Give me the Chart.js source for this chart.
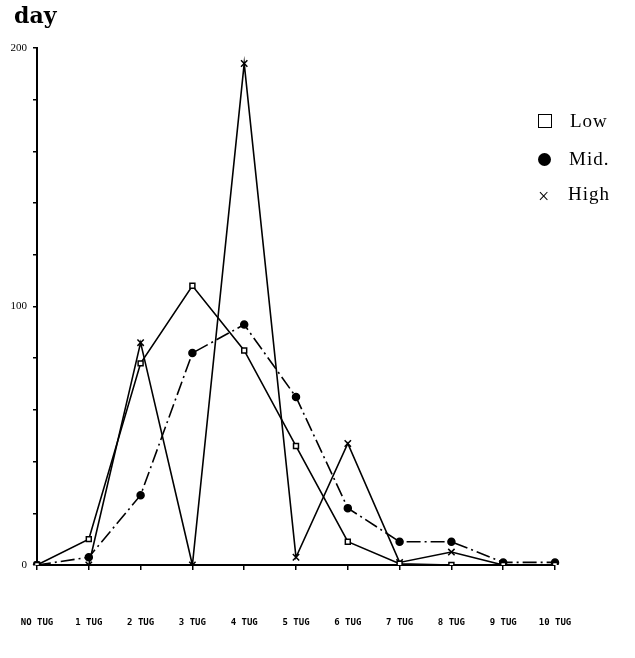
<!DOCTYPE html>
<html><head><meta charset="utf-8">
<script src="https://cdn.jsdelivr.net/npm/chart.js@4"></script>
<style>
body{margin:0;background:#fff;width:635px;height:658px;overflow:hidden;position:relative;font-family:"Liberation Serif",serif}
#wrap{position:absolute;left:0;top:0;width:635px;height:658px}
#day{position:absolute;left:14px;top:2px;font-size:22px;font-weight:bold;font-family:"DejaVu Serif",serif}
.lg{position:absolute;left:538px;font-size:19px;font-family:"Liberation Serif",serif;letter-spacing:1px}
</style></head><body>
<div id="wrap"><canvas id="c" width="635" height="658"></canvas></div>
<div id="day">day</div>
<div class="lg" style="top:110px"><span style="display:inline-block;width:12px;height:12px;border:1.5px solid #000;vertical-align:-1px"></span><span style="margin-left:18px">Low</span></div>
<div class="lg" style="top:148px"><span style="display:inline-block;width:13px;height:13px;border-radius:50%;background:#000;vertical-align:-1px"></span><span style="margin-left:18px">Mid.</span></div>
<div class="lg" style="top:183px"><span style="display:inline-block;width:14px;font-size:20px;vertical-align:-3px">×</span><span style="margin-left:16px">High</span></div>
<script>
const categories=["NO TUG","1 TUG","2 TUG","3 TUG","4 TUG","5 TUG","6 TUG","7 TUG","8 TUG","9 TUG","10 TUG"];
const lowValues=[0,10,78,108,83,46,9,0.5,0,0,0];
const midValues=[0,3,27,82,93,65,22,9,9,1,1];
const highValues=[0,0,86,0,194,3,47,1,5,0,0];
const yLabels=[0,100,200];
const ds=(label,data,ps,fill,dash)=>({label,data,borderColor:'#000',borderWidth:1.6,borderDash:dash,
  pointStyle:ps,pointRadius:ps==='crossRot'?4.5:3.5,pointBorderWidth:1.5,pointBackgroundColor:fill,pointBorderColor:'#000',tension:0});
new Chart(document.getElementById('c'),{type:'line',
 data:{labels:categories,datasets:[ds('Low',lowValues,'rect','#fff',[]),ds('Mid.',midValues,'circle','#000',[14,4,2,4]),ds('High',highValues,'crossRot','#000',[])]},
 options:{responsive:false,animation:false,
  layout:{padding:{top:48,right:80,bottom:0,left:0}},
  plugins:{legend:{display:false},tooltip:{enabled:false}},
  scales:{
   x:{offset:false,afterFit:s=>{s.height=93;s.paddingLeft=0;s.paddingRight=0},grid:{drawOnChartArea:false,tickLength:5,color:'#000',lineWidth:1.5},border:{color:'#000',width:2},
      ticks:{color:'#000',padding:47,maxRotation:0,autoSkip:false,font:{family:'"DejaVu Sans Mono",monospace',size:9,weight:'bold'}}},
   y:{min:0,max:200,afterFit:s=>{s.width=37},grid:{drawOnChartArea:false,tickLength:4,color:'#000',lineWidth:1.5},border:{color:'#000',width:2},
      ticks:{stepSize:20,color:'#000',padding:6,font:{family:'"Liberation Serif",serif',size:11},callback:v=>yLabels.includes(v)?String(v):''}}
  }}});
</script></body></html>
